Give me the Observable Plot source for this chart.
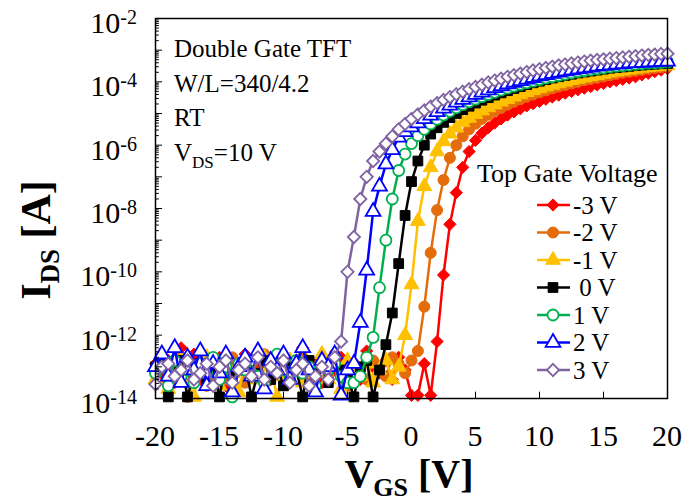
<!DOCTYPE html>
<html><head><meta charset="utf-8">
<script src="https://cdn.jsdelivr.net/npm/d3@7"></script>
<script src="https://cdn.jsdelivr.net/npm/@observablehq/plot@0.6"></script>
<style>body{margin:0;background:#fff}</style>
</head><body><div id="chart"></div>
<script>
// Gate sweep: V_GS from -20 V to 20 V in 0.5 V steps
const vgsStart = -20, vgsEnd = 20, vgsStep = 0.5;
// log10(I_DS [A]), one value per sweep point
const logI_m3V = [-12.9,-13.3,-12.8,-13.5,-12.4,-13.0,-12.6,-13.4,-12.9,-13.2,-12.7,-13.6,-12.9,-13.1,-12.6,-13.3,-13.0,-12.7,-13.4,-12.9,-13.2,-12.8,-13.0,-12.4,-13.3,-12.9,-13.5,-12.8,-13.1,-12.7,-13.2,-12.9,-13.4,-12.5,-13.0,-13.2,-12.8,-13.4,-12.7,-13.1,-13.9,
 -13.9,-12.9,-13.9,-12.2,-10.1,-8.5,-7.5,-6.7,-6.2,-5.85,-5.62,-5.45,-5.3,-5.17,-5.05,-4.95,-4.85,-4.76,-4.69,-4.62,-4.55,-4.48,-4.42,-4.36,-4.3,-4.25,-4.2,-4.15,-4.1,-4.05,-4.0,-3.96,-3.92,-3.88,-3.84,-3.78,-3.73,-3.68,-3.63,-3.58];
const logI_m2V = [-13.2,-12.8,-13.5,-13.0,-12.7,-13.95,-13.3,-12.9,-13.6,-12.8,-13.1,-13.4,-12.7,-13.0,-13.5,-12.9,-13.2,-12.6,-13.3,-13.0,-12.8,-13.4,-13.1,-12.7,-13.5,-13.0,-12.9,-13.3,-12.6,-13.2,-13.6,-12.9,-13.1,-13.4,-12.8,-13.0,-13.3,-12.7,-12.9,-13.2,-12.8,
 -12.5,-11.1,-9.4,-8.05,-7.1,-6.4,-6.0,-5.72,-5.5,-5.32,-5.17,-5.04,-4.92,-4.82,-4.72,-4.63,-4.55,-4.47,-4.4,-4.33,-4.27,-4.21,-4.15,-4.1,-4.05,-4.0,-3.95,-3.91,-3.87,-3.83,-3.79,-3.75,-3.71,-3.68,-3.65,-3.62,-3.59,-3.56,-3.54,-3.52];
const logI_m1V = [-13.4,-12.9,-13.7,-13.1,-12.8,-13.5,-13.95,-13.0,-12.7,-13.3,-13.6,-12.9,-13.2,-13.8,-12.8,-13.1,-13.4,-12.7,-13.0,-13.95,-13.3,-12.8,-13.1,-13.5,-12.9,-13.2,-12.6,-13.4,-13.0,-13.7,-12.8,-13.1,-13.3,-12.9,-13.5,-13.1,-12.8,-13.4,
 -13.0,-12.0,-10.4,-8.4,-7.3,-6.7,-6.2,-5.88,-5.64,-5.45,-5.28,-5.14,-5.02,-4.91,-4.81,-4.72,-4.63,-4.55,-4.47,-4.4,-4.33,-4.27,-4.21,-4.15,-4.1,-4.05,-4.0,-3.95,-3.91,-3.87,-3.83,-3.79,-3.75,-3.71,-3.68,-3.65,-3.62,-3.59,-3.56,-3.54,-3.52,-3.5,-3.48];
const logI_0V = [-13.0,-12.9,-13.95,-13.1,-12.8,-13.95,-13.2,-12.9,-13.5,-13.0,-13.95,-12.8,-13.3,-13.1,-12.9,-13.95,-13.2,-12.8,-13.4,-13.0,-13.6,-12.9,-13.1,-13.95,-12.8,-13.2,-13.0,-13.5,-12.9,-13.1,-13.3,-13.95,-13.0,-12.8,-13.95,-13.1,
 -12.3,-11.3,-9.74,-8.22,-7.15,-6.5,-6.0,-5.65,-5.45,-5.28,-5.13,-5.0,-4.88,-4.77,-4.67,-4.58,-4.5,-4.42,-4.35,-4.28,-4.21,-4.15,-4.09,-4.03,-3.98,-3.93,-3.88,-3.84,-3.8,-3.76,-3.72,-3.69,-3.66,-3.63,-3.6,-3.57,-3.55,-3.53,-3.51,-3.49,-3.47,-3.45,-3.44,-3.43,-3.42];
const logI_p1V = [-13.2,-13.0,-13.6,-12.8,-13.3,-13.1,-13.5,-12.9,-13.2,-12.7,-13.4,-13.0,-13.95,-12.9,-13.1,-12.8,-13.3,-13.5,-12.9,-12.6,-13.1,-13.4,-12.8,-13.2,-13.0,-13.6,-12.9,-13.1,-12.9,-13.3,-13.5,-13.5,-13.3,-12.7,
 -12.07,-10.5,-9.0,-7.7,-6.8,-6.28,-5.95,-5.7,-5.5,-5.33,-5.18,-5.05,-4.93,-4.82,-4.72,-4.63,-4.55,-4.47,-4.4,-4.33,-4.26,-4.2,-4.14,-4.08,-4.03,-3.98,-3.93,-3.88,-3.84,-3.8,-3.76,-3.72,-3.68,-3.65,-3.62,-3.59,-3.56,-3.53,-3.51,-3.49,-3.47,-3.45,-3.43,-3.41,-3.4,-3.39,-3.38];
const logI_p2V = [-13.0,-12.6,-13.3,-12.4,-13.5,-12.7,-13.1,-12.5,-13.6,-12.9,-13.2,-12.6,-13.8,-13.0,-12.7,-13.3,-12.5,-13.7,-12.8,-13.1,-12.6,-13.4,-12.9,-12.4,-13.1,-13.8,-12.8,-13.0,-12.6,-13.9,-13.1,
 -12.9,-11.6,-9.95,-8.1,-7.3,-6.6,-6.15,-5.75,-5.58,-5.43,-5.3,-5.17,-5.06,-4.95,-4.84,-4.74,-4.65,-4.56,-4.48,-4.4,-4.33,-4.26,-4.19,-4.13,-4.07,-4.02,-3.97,-3.92,-3.87,-3.82,-3.78,-3.74,-3.7,-3.66,-3.63,-3.6,-3.57,-3.54,-3.51,-3.49,-3.47,-3.45,-3.43,-3.41,-3.4,-3.39,-3.38,-3.37,-3.36,-3.35];
const logI_p3V = [-13.55,-13.0,-12.9,-13.3,-13.1,-12.8,-13.4,-13.2,-12.9,-13.6,-13.0,-12.8,-13.5,-13.1,-12.9,-13.3,-12.7,-13.4,-13.0,-13.2,-12.8,-13.5,-13.1,-12.9,-13.6,-13.3,-13.0,-13.4,-12.7,
 -12.2,-10.0,-8.9,-7.7,-7.0,-6.5,-6.2,-5.95,-5.72,-5.5,-5.33,-5.17,-5.03,-4.9,-4.78,-4.67,-4.57,-4.48,-4.39,-4.31,-4.23,-4.16,-4.09,-4.02,-3.96,-3.9,-3.84,-3.79,-3.74,-3.69,-3.64,-3.6,-3.56,-3.52,-3.48,-3.45,-3.42,-3.39,-3.36,-3.33,-3.31,-3.29,-3.27,-3.25,-3.23,-3.21,-3.19,-3.17,-3.15,-3.14,-3.12,-3.11];

const seriesLabels = ["-3 V","-2 V","-1 V"," 0 V","1 V","2 V","3 V"];
const seriesLogI = [logI_m3V, logI_m2V, logI_m1V, logI_0V, logI_p1V, logI_p2V, logI_p3V];
const seriesColors = ["#ff0000","#e46c0a","#ffc000","#000000","#00b050","#0000ff","#8064a2"];
const seriesSymbols = ["diamond","circle","triangle","square","circle","triangle","diamond"];
const seriesFilled = [true,true,true,true,false,false,false];

const xTicks = [-20,-15,-10,-5,0,5,10,15,20];
const yLabelExponents = [-2,-4,-6,-8,-10,-12,-14];
const infoLines = ["Double Gate TFT","W/L=340/4.2","RT"];
const legendTitle = "Top Gate Voltage";

const symbolMap = {
  diamond: d3.symbolDiamond2 || d3.symbolDiamond,
  circle: d3.symbolCircle,
  triangle: d3.symbolTriangle,
  square: d3.symbolSquare
};

const vgs = d3.range(vgsStart, vgsEnd + vgsStep / 2, vgsStep);
const series = seriesLabels.map((label, k) => {
  const arr = seriesLogI[k];
  const n = Math.min(arr.length, vgs.length);
  return {label, color: seriesColors[k], symbol: symbolMap[seriesSymbols[k]], filled: seriesFilled[k],
    data: d3.range(n).map(i => ({v: vgs[i], i: Math.pow(10, arr[i])}))};
});

// tick positions for log axis (decades + minor)
const decades = d3.range(-14, -1).map(e => Math.pow(10, e));
const minors = [];
for (let e = -14; e < -2; e++) for (let m = 2; m <= 9; m++) minors.push(m * Math.pow(10, e));

const R = 5.5;
const marks = [];
series.forEach(s => {
  marks.push(Plot.line(s.data, {x: "v", y: "i", stroke: s.color, strokeWidth: 2.5}));
  marks.push(Plot.dot(s.data, {x: "v", y: "i", symbol: s.symbol, r: R,
    fill: s.filled ? s.color : "white", stroke: s.color, strokeWidth: s.filled ? 1 : 1.8}));
});

const plot = Plot.plot({
  width: 683, height: 501,
  marginLeft: 155, marginRight: 16, marginTop: 18, marginBottom: 103,
  style: {background: "white", overflow: "visible"},
  x: {domain: [-20, 20], axis: null},
  y: {type: "log", domain: [1e-14, 1e-2], axis: null},
  marks: [
    ...marks,
    Plot.ruleY(decades, {x1: -20, x2: -19.45, stroke: "black", strokeWidth: 1}),
    Plot.ruleY(minors, {x1: -20, x2: -19.7, stroke: "black", strokeWidth: 1}),
    Plot.ruleX(xTicks.slice(1, -1), {y1: 1e-14, y2: Math.pow(10, -13.8), stroke: "black", strokeWidth: 1}),
    Plot.frame({stroke: "black", strokeWidth: 1.5})
  ]
});
document.getElementById("chart").appendChild(plot);

const svg = d3.select(plot);
const X = plot.scale("x"), Y = plot.scale("y");
const serif = '"Liberation Serif","Times New Roman",serif';

// x tick labels
const gx = svg.append("g").attr("font-family", serif).attr("font-size", 30).attr("text-anchor", "middle").attr("fill", "black");
xTicks.forEach(v => gx.append("text").attr("x", X.apply(v)).attr("y", 446).text(String(v)));

// y tick labels (10^n)
const gy = svg.append("g").attr("font-family", serif).attr("font-size", 30).attr("text-anchor", "end").attr("fill", "black");
yLabelExponents.forEach(e => {
  const t = gy.append("text").attr("x", 137).attr("y", Y.apply(Math.pow(10, e)) + 15);
  t.append("tspan").text("10");
  t.append("tspan").attr("font-size", 20).attr("dy", -9).text(String(e));
});

// axis titles
const xt = svg.append("text").attr("font-family", serif).attr("font-weight", "bold").attr("font-size", 40)
  .attr("text-anchor", "middle").attr("x", 409).attr("y", 487);
xt.append("tspan").text("V");
xt.append("tspan").attr("font-size", 26).attr("dy", 9).text("GS");
xt.append("tspan").attr("dy", -9).text(" [V]");

const yt = svg.append("text").attr("font-family", serif).attr("font-weight", "bold").attr("font-size", 42)
  .attr("text-anchor", "middle").attr("transform", "translate(50,240) rotate(-90)");
yt.append("tspan").text("I");
yt.append("tspan").attr("font-size", 27).attr("dy", 9).text("DS");
yt.append("tspan").attr("dy", -9).text(" [A]");

// info text
const gi = svg.append("g").attr("font-family", serif).attr("font-size", 25).attr("fill", "black").attr("text-anchor", "start");
infoLines.forEach((s, k) => gi.append("text").attr("x", 174).attr("y", 57 + k * 34.5).text(s));
const vds = gi.append("text").attr("x", 174).attr("y", 57 + 3 * 34.5);
vds.append("tspan").text("V");
vds.append("tspan").attr("font-size", 17).attr("dy", 7).text("DS");
vds.append("tspan").attr("dy", -7).text("=10 V");

// legend
const gl = svg.append("g").attr("font-family", serif).attr("fill", "black").attr("text-anchor", "start");
gl.append("text").attr("x", 477).attr("y", 182).attr("font-size", 26).text(legendTitle);
series.forEach((s, k) => {
  const cy = 205 + k * 27.5;
  gl.append("line").attr("x1", 537).attr("x2", 570).attr("y1", cy).attr("y2", cy)
    .attr("stroke", s.color).attr("stroke-width", 2.5);
  gl.append("path").attr("d", d3.symbol(s.symbol, Math.PI * R * R)())
    .attr("transform", `translate(553,${cy})`)
    .attr("fill", s.filled ? s.color : "white").attr("stroke", s.color).attr("stroke-width", s.filled ? 1 : 1.8);
  gl.append("text").attr("x", 573).attr("y", cy + 8.5).attr("font-size", 25)
    .style("white-space", "pre").text(s.label);
});
</script>
</body></html>
